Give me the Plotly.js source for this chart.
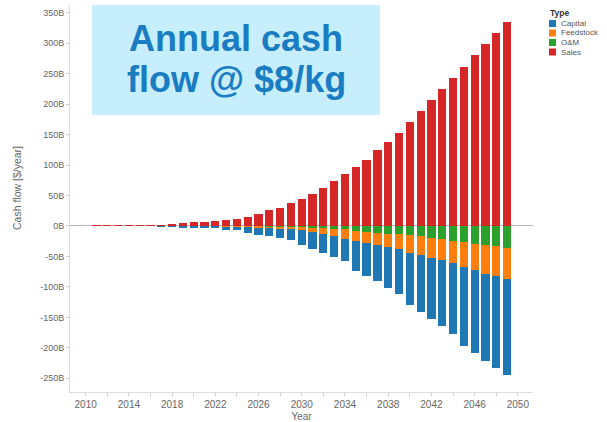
<!DOCTYPE html>
<html>
<head>
<meta charset="utf-8">
<script src="https://cdn.plot.ly/plotly-3.0.1.min.js"></script>
<style>html,body{margin:0;padding:0;background:#fff;}#chart{width:607px;height:422px;}</style>
</head>
<body>
<div id="chart"></div>
<script>
const years = [2011,2012,2013,2014,2015,2016,2017,2018,2019,2020,2021,2022,2023,2024,2025,2026,2027,2028,2029,2030,2031,2032,2033,2034,2035,2036,2037,2038,2039,2040,2041,2042,2043,2044,2045,2046,2047,2048,2049];
const sales = [0.8,0.8,0.9,1.0,1.5,1.8,2.2,3.0,5,6,7,8,10,12,15,19,26,30,37,45,53,62,73,85,96,109,124,138,153,171,189,207,225,243,261,280,298,316,334];
const capital = [-0.8,-0.8,-0.8,-0.8,-0.7,-0.8,-1.0,-1.5,-2.5,-3,-2.5,-3,-5,-6,-9,-11.5,-13.5,-15.5,-18.5,-24.4,-28.2,-31.3,-34.6,-35.1,-49.4,-54.6,-58.8,-66.5,-72.7,-86.2,-92.9,-101,-108.7,-116.8,-129.7,-136.2,-142.8,-151,-156.5];
const feedstock = [0,0,0,0,0,0,0,-0.1,-0.2,-0.3,-0.3,-0.5,-0.8,-1,-1.3,-1.8,-2.5,-3,-3.8,-5,-7.1,-9.9,-12,-16.4,-16.4,-18.1,-20.2,-21.9,-24.6,-29,-31.1,-33,-34.3,-35.6,-41.6,-43.8,-47.2,-49,-50.9];
const om = [0,0,0,0,0,0,0,0,-0.05,-0.1,-0.2,-0.2,-0.3,-0.4,-0.5,-0.8,-1,-1.2,-1.5,-1.6,-2.7,-3.8,-4.4,-5.5,-8.2,-9.3,-11,-12.6,-13.7,-14.8,-17,-19,-22,-24.6,-25.7,-29,-31,-33,-36.6];

const seriesNames = ['Capital','Feedstock','O&M','Sales'];
const seriesColors = ['#1f77b4','#ff7f0e','#2ca02c','#d62728'];

const xTickVals = [2010,2012,2014,2016,2018,2020,2022,2024,2026,2028,2030,2032,2034,2036,2038,2040,2042,2044,2046,2048,2050];
const xTickText = ['2010','','2014','','2018','','2022','','2026','','2030','','2034','','2038','','2042','','2046','','2050'];
const yTickVals = [350,300,250,200,150,100,50,0,-50,-100,-150,-200,-250];
const yTickText = ['350B','300B','250B','200B','150B','100B','50B','0B','-50B','-100B','-150B','-200B','-250B'];

const titleLines = ['Annual cash', 'flow @ $8/kg'];

const W = 0.76;
function bar(name, vals, color) {
  return {type:'bar', x: years, y: vals, name: name, width: W,
    marker:{color: color, line:{width:0}}, showlegend:false, hoverinfo:'x+y+name'};
}
// stacking order for negatives: O&M nearest zero, then Feedstock, then Capital
const data = [
  bar('O&M', om, seriesColors[2]),
  bar('Feedstock', feedstock, seriesColors[1]),
  bar('Capital', capital, seriesColors[0]),
  bar('Sales', sales, seriesColors[3])
];

const L = 70, R = 533, T = 5, B = 392;
const px = v => (v - L) / (R - L);
const py = v => (B - v) / (B - T);

const FONT = 'Liberation Sans, Arial, sans-serif';
const shapes = [
  {type:'rect', xref:'paper', yref:'paper', x0:px(92), x1:px(380), y0:py(115), y1:py(5),
   fillcolor:'#c7eefc', line:{width:0}, layer:'above'}
];
const annotations = [
  {xref:'paper', yref:'paper', x:px(236), y:py(38), text:titleLines[0], showarrow:false,
   xanchor:'center', yanchor:'middle', font:{family:FONT, size:36, color:'#1a7cc2', weight:'bold'}},
  {xref:'paper', yref:'paper', x:px(236), y:py(79), text:titleLines[1], showarrow:false,
   xanchor:'center', yanchor:'middle', font:{family:FONT, size:36, color:'#1a7cc2', weight:'bold'}},
  {xref:'paper', yref:'paper', x:px(548), y:py(12.5), text:'<b>Type</b>', showarrow:false,
   xanchor:'left', yanchor:'middle', font:{family:FONT, size:8.5, color:'#333'}},
  {xref:'paper', yref:'paper', x:px(17), y:py(188), text:'Cash flow [$/year]', textangle:-90, showarrow:false,
   xanchor:'center', yanchor:'middle', font:{family:FONT, size:10.5, color:'#666'}}
];
const rowY = [23.5, 33, 42.5, 52];
seriesNames.forEach((n, i) => {
  shapes.push({type:'rect', xref:'paper', yref:'paper', x0:px(549), x1:px(556), y0:py(rowY[i]+3.5), y1:py(rowY[i]-3.5),
    fillcolor:seriesColors[i], line:{width:0}});
  annotations.push({xref:'paper', yref:'paper', x:px(559), y:py(rowY[i]), text:n, showarrow:false,
    xanchor:'left', yanchor:'middle', font:{family:FONT, size:8, color:'#555'}});
});

const layout = {
  width: 607, height: 422,
  margin: {l: L, r: 607 - R, t: T, b: 422 - B, pad: 0},
  paper_bgcolor:'#ffffff', plot_bgcolor:'#ffffff',
  barmode: 'relative', bargap: 0,
  showlegend: false,
  font: {family:FONT, size:10, color:'#666'},
  xaxis: {
    range: [2008.55, 2051.4], tickmode:'array', tickvals: xTickVals, ticktext: xTickText,
    showgrid:false, zeroline:false, showline:true, linecolor:'#dddddd', linewidth:1,
    ticks:'outside', ticklen:3, tickcolor:'#cccccc', tickfont:{size:10, color:'#666'},
    title:{text:'Year', font:{size:10, color:'#666'}, standoff:5}, fixedrange:true
  },
  yaxis: {
    range: [-272.5, 362.6], tickmode:'array', tickvals: yTickVals, ticktext: yTickText,
    showgrid:false, zeroline:true, zerolinecolor:'#b5b5b5', zerolinewidth:1,
    showline:true, linecolor:'#dddddd', linewidth:1,
    ticks:'outside', ticklen:3, tickcolor:'#cccccc', tickfont:{size:9, color:'#666'},
    fixedrange:true
  },
  shapes: shapes,
  annotations: annotations
};

Plotly.newPlot('chart', data, layout, {displayModeBar:false, staticPlot:true});
</script>
</body>
</html>
